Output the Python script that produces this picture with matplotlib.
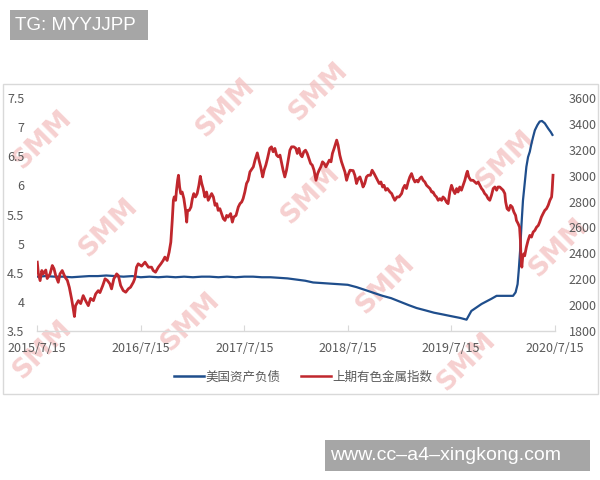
import matplotlib
matplotlib.use('Agg')
import matplotlib.pyplot as plt
from matplotlib.patches import Rectangle
from matplotlib.lines import Line2D
import pandas as pd

plt.rcParams['font.family'] = ['Noto Sans CJK SC', 'DejaVu Sans']

# ---------------- data ----------------
series_names = ['美国资产负债', '上期有色金属指数']

blue_dates = [
    '2015-07-15', '2015-08-15', '2015-09-15', '2015-10-15', '2015-11-15', '2015-12-15',
    '2016-01-15', '2016-02-15', '2016-03-15', '2016-04-15', '2016-05-15', '2016-06-15',
    '2016-07-15', '2016-08-15', '2016-09-15', '2016-10-15', '2016-11-15', '2016-12-15',
    '2017-01-15', '2017-02-15', '2017-03-15', '2017-04-15', '2017-05-15', '2017-06-15',
    '2017-07-15', '2017-08-15', '2017-09-15', '2017-10-15', '2017-11-15', '2017-12-15',
    '2018-01-15', '2018-02-15', '2018-03-15', '2018-04-15', '2018-05-15', '2018-06-15',
    '2018-07-15', '2018-08-15', '2018-09-15', '2018-10-15', '2018-11-15', '2018-12-15',
    '2019-01-15', '2019-02-15', '2019-03-15', '2019-04-15', '2019-05-15', '2019-06-15',
    '2019-07-15', '2019-08-15', '2019-09-07', '2019-09-24', '2019-10-12', '2019-10-30',
    '2019-12-04', '2019-12-22', '2020-01-20', '2020-02-18', '2020-02-27', '2020-03-05',
    '2020-03-09', '2020-03-14', '2020-03-19', '2020-03-24', '2020-03-30', '2020-04-05',
    '2020-04-11', '2020-04-17', '2020-04-23', '2020-04-29', '2020-05-05', '2020-05-14',
    '2020-05-22', '2020-05-30', '2020-06-09', '2020-06-21', '2020-06-30', '2020-07-06',
]
blue_values = [
    4.43, 4.44, 4.43, 4.43, 4.42, 4.43,
    4.44, 4.44, 4.45, 4.44, 4.43, 4.44,
    4.42, 4.43, 4.42, 4.43, 4.42, 4.43,
    4.42, 4.43, 4.43, 4.42, 4.43, 4.42,
    4.43, 4.43, 4.42, 4.42, 4.41, 4.40,
    4.38, 4.36, 4.33, 4.32, 4.31, 4.30,
    4.29, 4.25, 4.20, 4.15, 4.10, 4.06,
    4.00, 3.94, 3.89, 3.85, 3.81, 3.78,
    3.75, 3.72, 3.69, 3.84, 3.90, 3.96,
    4.05, 4.10, 4.10, 4.10, 4.16, 4.30,
    4.53, 4.88, 5.34, 5.74, 6.03, 6.32,
    6.49, 6.58, 6.72, 6.84, 6.95, 7.04,
    7.10, 7.11, 7.07, 6.98, 6.92, 6.87,
]

red_dates = [
    '2015-07-16', '2015-07-20', '2015-07-26', '2015-08-01', '2015-08-06', '2015-08-15',
    '2015-08-20', '2015-08-30', '2015-09-07', '2015-09-13', '2015-09-19', '2015-09-28',
    '2015-10-04', '2015-10-12', '2015-10-22', '2015-10-30', '2015-11-06', '2015-11-14',
    '2015-11-20', '2015-11-24', '2015-11-28', '2015-12-08', '2015-12-16', '2015-12-25',
    '2016-01-03', '2016-01-12', '2016-01-20', '2016-01-30', '2016-02-07', '2016-02-16',
    '2016-02-22', '2016-03-03', '2016-03-11', '2016-03-19', '2016-03-28', '2016-04-03',
    '2016-04-11', '2016-04-21', '2016-04-27', '2016-05-05', '2016-05-14', '2016-05-23',
    '2016-06-01', '2016-06-09', '2016-06-19', '2016-06-24', '2016-06-30', '2016-07-06',
    '2016-07-18', '2016-07-30', '2016-08-11', '2016-08-22', '2016-08-28', '2016-09-05',
    '2016-09-15', '2016-09-24', '2016-10-02', '2016-10-08', '2016-10-16', '2016-10-23',
    '2016-10-29', '2016-11-03', '2016-11-07', '2016-11-10', '2016-11-15', '2016-11-18',
    '2016-11-22', '2016-11-25', '2016-11-29', '2016-12-03', '2016-12-08', '2016-12-14',
    '2016-12-20', '2016-12-24', '2016-12-27', '2017-01-02', '2017-01-08', '2017-01-13',
    '2017-01-18', '2017-01-24', '2017-01-30', '2017-02-05', '2017-02-10', '2017-02-15',
    '2017-02-20', '2017-02-26', '2017-03-04', '2017-03-10', '2017-03-16', '2017-03-22',
    '2017-03-28', '2017-04-03', '2017-04-09', '2017-04-14', '2017-04-20', '2017-04-26',
    '2017-05-02', '2017-05-08', '2017-05-14', '2017-05-19', '2017-05-28', '2017-06-03',
    '2017-06-08', '2017-06-16', '2017-06-24', '2017-06-30', '2017-07-06', '2017-07-11',
    '2017-07-17', '2017-07-23', '2017-07-29', '2017-08-04', '2017-08-16', '2017-08-22',
    '2017-08-30', '2017-09-05', '2017-09-11', '2017-09-18', '2017-09-23', '2017-09-29',
    '2017-10-05', '2017-10-13', '2017-10-19', '2017-10-25', '2017-10-31', '2017-11-06',
    '2017-11-12', '2017-11-18', '2017-11-24', '2017-11-29', '2017-12-05', '2017-12-11',
    '2017-12-17', '2017-12-23', '2017-12-29', '2018-01-06', '2018-01-13', '2018-01-18',
    '2018-01-24', '2018-01-30', '2018-02-04', '2018-02-10', '2018-02-16', '2018-02-22',
    '2018-02-28', '2018-03-06', '2018-03-12', '2018-03-18', '2018-03-25', '2018-03-31',
    '2018-04-05', '2018-04-11', '2018-04-17', '2018-04-23', '2018-04-29', '2018-05-05',
    '2018-05-11', '2018-05-17', '2018-05-22', '2018-05-28', '2018-06-06', '2018-06-11',
    '2018-06-17', '2018-06-23', '2018-06-29', '2018-07-05', '2018-07-11', '2018-07-16',
    '2018-07-23', '2018-08-03', '2018-08-09', '2018-08-15', '2018-08-21', '2018-08-27',
    '2018-09-02', '2018-09-07', '2018-09-13', '2018-09-19', '2018-09-25', '2018-10-03',
    '2018-10-09', '2018-10-16', '2018-10-22', '2018-10-28', '2018-11-03', '2018-11-09',
    '2018-11-15', '2018-11-20', '2018-11-26', '2018-12-02', '2018-12-11', '2018-12-17',
    '2018-12-22', '2018-12-28', '2019-01-05', '2019-01-12', '2019-01-21', '2019-01-26',
    '2019-02-01', '2019-02-07', '2019-02-13', '2019-02-19', '2019-02-25', '2019-03-03',
    '2019-03-09', '2019-03-15', '2019-03-20', '2019-03-26', '2019-04-01', '2019-04-07',
    '2019-04-13', '2019-04-19', '2019-04-25', '2019-05-01', '2019-05-07', '2019-05-12',
    '2019-05-18', '2019-05-24', '2019-05-30', '2019-06-05', '2019-06-11', '2019-06-16',
    '2019-06-22', '2019-06-28', '2019-07-04', '2019-07-10', '2019-07-16', '2019-07-22',
    '2019-07-28', '2019-08-03', '2019-08-08', '2019-08-14', '2019-08-20', '2019-08-26',
    '2019-09-01', '2019-09-07', '2019-09-10', '2019-09-15', '2019-09-22', '2019-09-30',
    '2019-10-06', '2019-10-12', '2019-10-18', '2019-10-24', '2019-10-30', '2019-11-04',
    '2019-11-10', '2019-11-16', '2019-11-22', '2019-11-28', '2019-12-04', '2019-12-10',
    '2019-12-16', '2019-12-22', '2019-12-27', '2020-01-02', '2020-01-08', '2020-01-14',
    '2020-01-20', '2020-01-23', '2020-01-28', '2020-02-03', '2020-02-09', '2020-02-15',
    '2020-02-21', '2020-02-27', '2020-03-01', '2020-03-07', '2020-03-12', '2020-03-15',
    '2020-03-17', '2020-03-20', '2020-03-23', '2020-03-27', '2020-03-30', '2020-04-05',
    '2020-04-11', '2020-04-17', '2020-04-23', '2020-04-29', '2020-05-05', '2020-05-11',
    '2020-05-17', '2020-05-22', '2020-05-28', '2020-06-03', '2020-06-09', '2020-06-15',
    '2020-06-21', '2020-06-27', '2020-07-03', '2020-07-05', '2020-07-08',
]
red_values = [
    2331, 2240, 2188, 2266, 2240, 2270,
    2204, 2240, 2305, 2280, 2227, 2175,
    2240, 2266, 2214, 2190, 2136, 2046,
    1968, 1910, 1994, 2033, 2010, 2072,
    2030, 1994, 2050, 2033, 2085, 2110,
    2095, 2150, 2202, 2190, 2163, 2124,
    2202, 2240, 2227, 2150, 2111, 2098,
    2124, 2137, 2176, 2204, 2292, 2318,
    2300, 2331, 2292, 2292, 2266, 2253,
    2292, 2318, 2344, 2370, 2344, 2408,
    2486, 2654, 2810, 2836, 2810, 2888,
    2965, 3004, 2913, 2862, 2874, 2823,
    2732, 2641, 2732, 2732, 2758, 2823,
    2862, 2836, 2862, 2926, 2996, 2940,
    2901, 2836, 2874, 2810, 2836, 2862,
    2836, 2771, 2784, 2732, 2745, 2707,
    2668, 2654, 2693, 2680, 2707, 2641,
    2680, 2693, 2758, 2784, 2797, 2823,
    2874, 2940, 2965, 3030, 3069, 3121,
    3177, 3121, 3069, 2991, 3043, 3082,
    3134, 3212, 3224, 3186, 3212, 3160,
    3147, 3160, 3095, 3043, 2991, 3043,
    3121, 3198, 3224, 3224, 3212, 3173,
    3212, 3160, 3147, 3186, 3198, 3173,
    3134, 3095, 3082, 3043, 2965, 3017,
    3043, 3069, 3108, 3095, 3069, 3095,
    3121, 3108, 3173, 3212, 3276, 3237,
    3160, 3108, 3069, 3030, 2965, 3004,
    3043, 3040, 3004, 2940, 2978, 2991,
    2952, 2913, 2940, 2991, 3004, 3004,
    3043, 3017, 2991, 2965, 2940, 2952,
    2913, 2926, 2888, 2901, 2874, 2862,
    2836, 2810, 2836, 2836, 2862, 2901,
    2926, 2901, 2952, 2991, 3017, 2978,
    2952, 2965, 2952, 2978, 2991, 2965,
    2952, 2926, 2913, 2901, 2874, 2874,
    2849, 2836, 2810, 2823, 2810, 2836,
    2823, 2797, 2784, 2874, 2926, 2888,
    2862, 2901, 2874, 2913, 2888, 2926,
    2965, 3017, 3035, 2990, 2965, 2965,
    2952, 2940, 2952, 2926, 2901, 2888,
    2862, 2849, 2823, 2810, 2849, 2901,
    2913, 2888, 2913, 2913, 2901, 2888,
    2862, 2797, 2745, 2732, 2771, 2758,
    2719, 2693, 2654, 2629, 2602, 2499,
    2370, 2292, 2370, 2396, 2380, 2447,
    2499, 2538, 2525, 2564, 2577, 2602,
    2615, 2641, 2680, 2707, 2732, 2745,
    2771, 2810, 2836, 2888, 3004,
]

x_tick_dates = ['2015-07-15', '2016-07-15', '2017-07-15', '2018-07-15', '2019-07-15', '2020-07-15']
x_tick_labels = ['2015/7/15', '2016/7/15', '2017/7/15', '2018/7/15', '2019/7/15', '2020/7/15']
left_ticks = [3.5, 4, 4.5, 5, 5.5, 6, 6.5, 7, 7.5]
left_tick_labels = ['3.5', '4', '4.5', '5', '5.5', '6', '6.5', '7', '7.5']
right_ticks = [1800, 2000, 2200, 2400, 2600, 2800, 3000, 3200, 3400, 3600]

# ---------------- figure ----------------
W, H = 600, 480
fig = plt.figure(figsize=(W / 100, H / 100), dpi=100)


def fx(px):
    return px / W


def fy(py):
    return 1 - py / H


BLUE = '#1F4E8C'
RED = '#C0272D'
TXT = '#595959'

# chart frame
fig.patches.append(Rectangle((fx(3), fy(394)), fx(598) - fx(3), (394 - 84) / H,
                             transform=fig.transFigure, facecolor='white',
                             edgecolor='#d9d9d9', lw=1, zorder=-3))

# watermarks
wm_pos = [(42, 140), (225, 108), (108, 228), (310, 195), (190, 322),
          (385, 285), (505, 160), (558, 248), (466, 362), (318, 92), (42, 350)]
for (px, py) in wm_pos:
    fig.text(fx(px), fy(py), 'SMM', rotation=45, ha='center', va='center',
             fontsize=19, fontweight='heavy', family='DejaVu Sans',
             color='#f3c0c0', alpha=0.75, zorder=-1)

ax = fig.add_axes([fx(37), fy(330.7), fx(555) - fx(37), (330.7 - 98.3) / H])
ax.set_facecolor('none')
ax2 = ax.twinx()

bd = pd.to_datetime(blue_dates)
rd = pd.to_datetime(red_dates)

ax.plot(bd, blue_values, color=BLUE, lw=1.6, solid_joinstyle='round')
ax2.plot(rd, red_values, color=RED, lw=2.0, solid_joinstyle='round')

xt = pd.to_datetime(x_tick_dates)
ax.set_xlim(xt[0], xt[-1])
ax.set_xticks(xt)
ax.set_xticklabels(x_tick_labels)

ax.set_ylim(3.5, 7.5)
ax.set_yticks(left_ticks)
ax.set_yticklabels(left_tick_labels)
ax2.set_ylim(1800, 3600)
ax2.set_yticks(right_ticks)

for a in (ax, ax2):
    for s in ('top', 'left', 'right'):
        a.spines[s].set_visible(False)
ax2.spines['bottom'].set_visible(False)
ax.spines['bottom'].set_color('#d9d9d9')
ax.spines['bottom'].set_linewidth(1)

ax.tick_params(axis='x', direction='in', length=4, color='#d9d9d9',
               labelsize=9, labelcolor=TXT, pad=8)
ax.tick_params(axis='y', length=0, labelsize=9, labelcolor=TXT, pad=9)
ax2.tick_params(axis='y', length=0, labelsize=9, labelcolor=TXT, pad=10)

handles = [Line2D([], [], color=BLUE, lw=1.8), Line2D([], [], color=RED, lw=1.8)]
fig.legend(handles, series_names, ncol=2, loc='center',
           bbox_to_anchor=(fx(303), fy(377)), frameon=False,
           handlelength=2.4, handletextpad=0.15, columnspacing=1.6,
           prop={'size': 9}, labelcolor=TXT)

# top-left label box
fig.patches.append(Rectangle((fx(10), fy(40)), fx(148) - fx(10), 30 / H,
                             transform=fig.transFigure, facecolor='#a6a6a6',
                             edgecolor='none', zorder=1))
fig.text(fx(15), fy(25), 'TG: MYYJJPP', ha='left', va='center',
         family='Liberation Sans', fontsize=13.5, color='white', zorder=2)

# bottom-right label box
fig.patches.append(Rectangle((fx(325), fy(471)), fx(590) - fx(325), 31 / H,
                             transform=fig.transFigure, facecolor='#a6a6a6',
                             edgecolor='none', zorder=1))
fig.text(fx(330), fy(455.5), 'www.cc\u2013a4\u2013xingkong.com', ha='left', va='center',
         family='Liberation Sans', fontsize=14, color='white', zorder=2)

fig.savefig('out.png', dpi=100)
